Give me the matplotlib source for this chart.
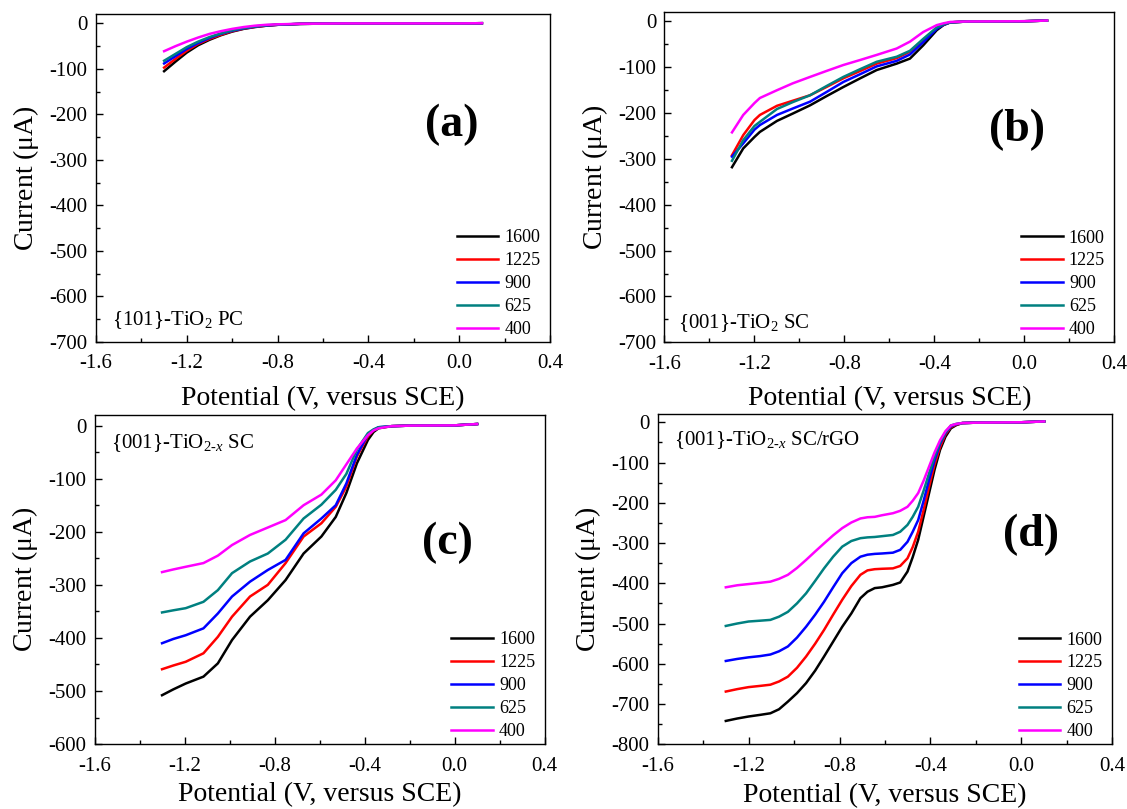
import numpy as np
import matplotlib
matplotlib.use("Agg")
import matplotlib.pyplot as plt
from matplotlib.ticker import MultipleLocator, FormatStrFormatter

plt.rcParams['font.family'] = ['Liberation Serif', 'DejaVu Serif']
plt.rcParams['mathtext.fontset'] = 'custom'
plt.rcParams['mathtext.rm'] = 'Liberation Serif'
plt.rcParams['mathtext.it'] = 'Liberation Serif:italic'
plt.rcParams['mathtext.bf'] = 'Liberation Serif:bold'
plt.rcParams['axes.unicode_minus'] = False

rpm = ['1600', '1225', '900', '625', '400']
colors = ['#000000', '#ff0000', '#0000ff', '#008080', '#ff00ff']

# panel (a) {101}-TiO2 PC
x_a = [-1.30, -1.25, -1.20, -1.15, -1.10, -1.05, -1.00, -0.95, -0.90, -0.85, -0.80, -0.70, -0.50, -0.30, 0.0, 0.1]
a_1600 = [-105, -84, -64, -48, -36, -26, -18, -12, -8, -5, -3, -1, 0, 0, 0, 0.5]
a_1225 = [-97, -78, -60, -45, -34, -25, -17, -11.5, -7.5, -5, -3, -1, 0, 0, 0, 0.5]
a_900 = [-88, -72, -56, -43, -32, -23, -16, -11, -7, -4.5, -3, -1, 0, 0, 0, 0.5]
a_625 = [-82, -67, -52, -40, -30, -22, -15, -10, -6.5, -4, -2.5, -1, 0, 0, 0, 0.5]
a_400 = [-61, -50, -40, -31, -23, -17, -12, -8, -5, -3, -2, -0.8, 0, 0, 0, 0.5]

# panel (b) {001}-TiO2 SC
x_b = [-1.30, -1.25, -1.20, -1.176, -1.10, -1.03, -0.953, -0.88, -0.805, -0.73, -0.657, -0.568, -0.509,
       -0.45, -0.39, -0.36, -0.33, -0.25, 0.0, 0.1]
b_1600 = [-318, -277, -252, -241, -217, -201, -183, -163, -143, -124, -106, -92, -81, -52, -19, -8, -2, 0, 0.5, 2]
b_1225 = [-292, -248, -215, -204, -184, -173, -161, -143, -124, -108, -92, -80, -66, -41, -15, -7, -2, 0, 0.5, 2]
b_900 = [-295, -266, -236, -226, -204, -190, -175, -154, -132, -115, -98, -86, -72, -45, -16, -7, -2, 0, 0.5, 2]
b_625 = [-304, -259, -228, -219, -191, -176, -161, -141, -121, -104, -88, -77, -64, -38, -13, -6, -2, 0, 0.5, 2]
b_400 = [-242, -204, -178, -167, -150, -135, -121, -108, -95, -84, -73, -59, -44, -23, -8, -4, -1, 0, 0.5, 2]

# panel (c) {001}-TiO2-x SC
x_c = [-1.30, -1.25, -1.195, -1.116, -1.052, -0.989, -0.909, -0.83, -0.751, -0.671, -0.592, -0.528, -0.481,
       -0.434, -0.385, -0.36, -0.338, -0.28, -0.2, 0.0, 0.1]
c_1600 = [-508, -497, -486, -473, -448, -404, -360, -329, -291, -241, -209, -172, -127, -71, -27, -12, -5, -1, 0, 0.5, 3]
c_1225 = [-459, -452, -445, -429, -398, -360, -322, -300, -259, -209, -184, -153, -115, -58, -20, -9, -4, -1, 0, 0.5, 3]
c_900 = [-410, -402, -395, -382, -354, -322, -294, -272, -253, -203, -175, -150, -109, -55, -17, -8, -3, -1, 0, 0.5, 3]
c_625 = [-352, -348, -344, -332, -310, -278, -256, -241, -215, -175, -149, -121, -91, -45, -14, -7, -3, -1, 0, 0.5, 3]
c_400 = [-276, -271, -266, -259, -245, -225, -206, -192, -178, -150, -130, -103, -73, -43, -18, -9, -5, -1, 0, 0.5, 3]

# panel (d) {001}-TiO2-x SC/rGO
x_d = [-1.30, -1.25, -1.20, -1.15, -1.104, -1.066, -1.027, -0.987, -0.947, -0.907, -0.868, -0.828, -0.788,
       -0.748, -0.708, -0.677, -0.645, -0.613, -0.565, -0.533, -0.501, -0.478, -0.454, -0.43, -0.406,
       -0.382, -0.358, -0.334, -0.31, -0.286, -0.26, -0.2, 0.0, 0.1]
d_1600 = [-742, -736, -731, -727, -723, -713, -694, -673, -648, -617, -582, -545, -508, -475, -437, -421, -412,
          -410, -404, -398, -371, -335, -292, -234, -176, -118, -69, -36, -15, -7, -2, -1, 0, 2]
d_1225 = [-669, -663, -658, -655, -652, -644, -632, -610, -582, -550, -516, -478, -441, -407, -379, -368, -365,
          -364, -363, -357, -338, -310, -272, -218, -160, -105, -62, -30, -12, -6, -2, -1, 0, 2]
d_900 = [-593, -588, -584, -581, -577, -569, -557, -535, -508, -478, -446, -410, -375, -350, -334, -329, -327,
         -326, -324, -317, -297, -272, -243, -195, -143, -95, -54, -27, -10, -5, -2, -1, 0, 2]
d_625 = [-506, -500, -495, -493, -491, -483, -471, -450, -425, -394, -363, -334, -309, -295, -288, -286, -285,
         -283, -280, -272, -255, -235, -210, -170, -127, -85, -50, -25, -8, -4, -2, -1, 0, 2]
d_400 = [-410, -405, -402, -399, -396, -389, -379, -362, -342, -321, -301, -281, -263, -249, -239, -236, -235,
         -231, -226, -220, -210, -195, -176, -145, -110, -75, -45, -22, -8, -4, -2, -1, 0, 2]

panels = [
    dict(x=x_a, ys=[a_1600, a_1225, a_900, a_625, a_400], ymin=-700, tag='(a)',
         name=r'{101}-TiO$_2$ PC', pos=[0.0852, 0.5773, 0.4028, 0.405],
         tagxy=(0.784, 0.662), namexy=(0.036, 0.052), xpad=9),
    dict(x=x_b, ys=[b_1600, b_1225, b_900, b_625, b_400], ymin=-700, tag='(b)',
         name=r'{001}-TiO$_2$ SC', pos=[0.5896, 0.5769, 0.3993, 0.4079],
         tagxy=(0.783, 0.643), namexy=(0.031, 0.043), xpad=9),
    dict(x=x_c, ys=[c_1600, c_1225, c_900, c_625, c_400], ymin=-600, tag='(c)',
         name=r'{001}-TiO$_{2\text{-}\mathit{x}}$ SC', pos=[0.0839, 0.0803, 0.3993, 0.4067],
         tagxy=(0.785, 0.611), namexy=(0.036, 0.899), xpad=5),
    dict(x=x_d, ys=[d_1600, d_1225, d_900, d_625, d_400], ymin=-800, tag='(d)',
         name=r'{001}-TiO$_{2\text{-}\mathit{x}}$ SC/rGO', pos=[0.5835, 0.08, 0.4035, 0.408],
         tagxy=(0.822, 0.634), namexy=(0.036, 0.907), xpad=5),
]

fig = plt.figure(figsize=(11.27, 8.09), dpi=100)

for p in panels:
    ax = fig.add_axes(p['pos'])
    for y, lab, c in zip(p['ys'], rpm, colors):
        ax.plot(p['x'], y, color=c, lw=1.8, label=lab)
    ax.set_xlim(-1.6, 0.4)
    ax.set_ylim(p['ymin'], 20)
    ax.xaxis.set_major_locator(MultipleLocator(0.4))
    ax.xaxis.set_minor_locator(MultipleLocator(0.2))
    ax.xaxis.set_major_formatter(FormatStrFormatter('%.1f'))
    ax.yaxis.set_major_locator(MultipleLocator(100))
    ax.yaxis.set_minor_locator(MultipleLocator(50))
    ax.tick_params(which='both', direction='in', top=False, right=False, labelsize=15)
    ax.tick_params(axis='x', pad=9)
    ax.tick_params(axis='y', pad=6)
    ax.tick_params(which='major', length=5, width=1)
    ax.tick_params(which='minor', length=3, width=1)
    for s in ax.spines.values():
        s.set_linewidth(1.0)
    ax.set_xlabel('Potential (V, versus SCE)', fontsize=20, labelpad=p['xpad'])
    ax.set_ylabel(r'Current ($\mathrm{\mu}$A)', fontsize=20, labelpad=6)
    ax.text(p['tagxy'][0], p['tagxy'][1], p['tag'], transform=ax.transAxes, fontsize=33,
            fontweight='bold', ha='center', va='center')
    ax.text(p['namexy'][0], p['namexy'][1], p['name'], transform=ax.transAxes, fontsize=15,
            ha='left', va='baseline')
    ax.legend(loc='lower right', bbox_to_anchor=(0.995, -0.01), frameon=False, fontsize=13,
              handlelength=2.3, handletextpad=0.35, labelspacing=0.33, borderaxespad=0)

fig.savefig('out.png', dpi=100)
